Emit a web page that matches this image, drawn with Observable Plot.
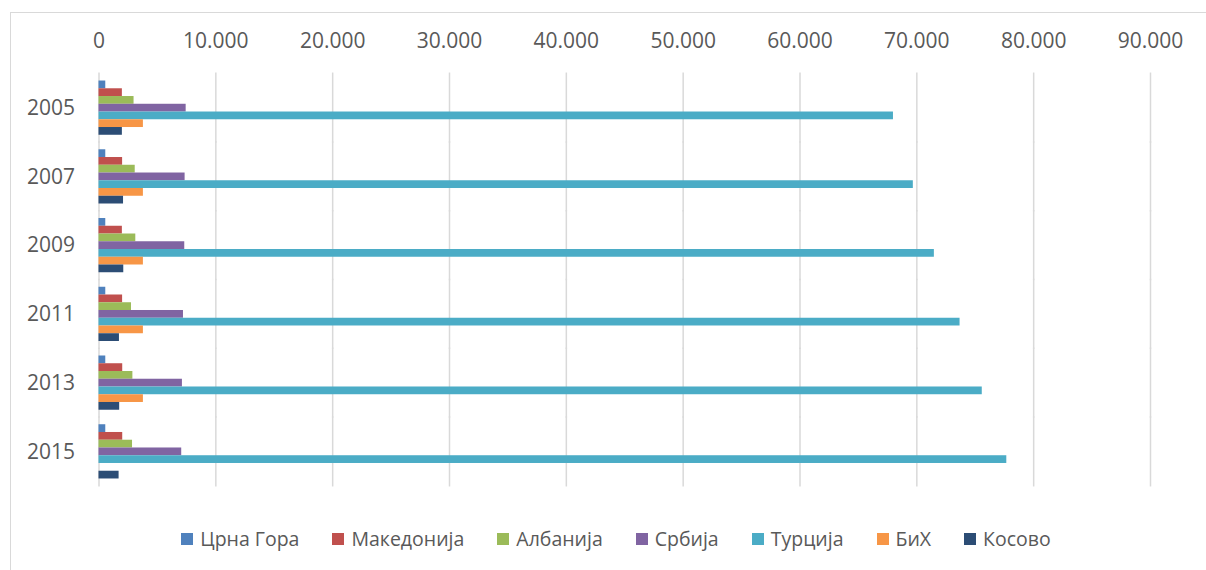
<!DOCTYPE html>
<html>
<head>
<meta charset="utf-8">
<script src="https://cdn.jsdelivr.net/npm/d3@7"></script>
<script src="https://cdn.jsdelivr.net/npm/@observablehq/plot@0.6"></script>
<style>
  html, body { margin: 0; padding: 0; background: #fff; }
  #wrap { position: relative; width: 1206px; height: 570px; overflow: hidden; font-family: "Open Sans", sans-serif; }
  #frame { position: absolute; left: 10px; top: 12px; width: 1300px; height: 700px; border-left: 1.5px solid #d9d9d9; border-top: 1.5px solid #d9d9d9; box-sizing: border-box; }
  #chart { position: absolute; left: 0; top: 0; }
  #legend { position: absolute; left: 0; top: 525px; width: 1232px; display: flex; justify-content: center; gap: 33px; font-size: 19.5px; color: #595959; }
  .item { display: flex; align-items: center; white-space: nowrap; }
  .sw { width: 12px; height: 12px; margin-right: 7px; }
</style>
</head>
<body>
<div id="wrap">
  <div id="frame"></div>
  <div id="chart"></div>
  <div id="legend"></div>
</div>
<script>
const years = ["2005", "2007", "2009", "2011", "2013", "2015"];
const series = ["Црна Гора", "Македонија", "Албанија", "Србија", "Турција", "БиХ", "Косово"];
const colors = ["#4F81BD", "#C0504D", "#9BBB59", "#8064A2", "#4BACC6", "#F79646", "#2C4D75"];
const crnaGora   = [580, 580, 580, 580, 580, 580];
const makedonija = [2000, 2020, 2000, 2020, 2030, 2030];
const albanija   = [3000, 3100, 3150, 2780, 2900, 2870];
const srbija     = [7460, 7370, 7340, 7230, 7140, 7080];
const turcija    = [68000, 69700, 71500, 73700, 75600, 77700];
const bih        = [3800, 3800, 3800, 3800, 3800, null];
const kosovo     = [2000, 2100, 2120, 1750, 1770, 1720];
const xTicks = [0, 10000, 20000, 30000, 40000, 50000, 60000, 70000, 80000, 90000];

const valuesBySeries = [crnaGora, makedonija, albanija, srbija, turcija, bih, kosovo];
const data = [];
years.forEach((yr, i) => {
  series.forEach((s, j) => {
    const v = valuesBySeries[j][i];
    if (v != null) data.push({year: yr, series: s, value: v});
  });
});

const loc = d3.formatLocale({decimal: ",", thousands: ".", grouping: [3], currency: ["", ""]});
const fmt = loc.format(",");

const chart = Plot.plot({
  width: 1206,
  height: 500,
  marginTop: 72,
  marginBottom: 13,
  marginLeft: 98.5,
  marginRight: 56,
  style: {fontFamily: "Open Sans", fontSize: "21px", color: "#595959", background: "transparent"},
  x: {domain: [0, 90000]},
  y: {domain: series, padding: 0, axis: null, round: false},
  fy: {domain: years, paddingInner: 0.211, paddingOuter: 0.124, label: null, round: false},
  color: {domain: series, range: colors},
  marks: [
    Plot.ruleX(xTicks, {x: d => d, stroke: "#d9d9d9", strokeWidth: 1.5, insetTop: -8, insetBottom: -8}),
    Plot.barX(data, {x: "value", y: "series", fy: "year", fill: "series"}),
    Plot.axisX(xTicks, {anchor: "top", tickSize: 0, tickPadding: 33, tickFormat: d => fmt(d), label: null, fill: "#595959"}),
    Plot.axisFy({anchor: "left", tickSize: 0, tickPadding: 24, label: null, fill: "#595959"})
  ]
});
document.getElementById("chart").appendChild(chart);

const legend = document.getElementById("legend");
series.forEach((s, j) => {
  const it = document.createElement("div");
  it.className = "item";
  const sw = document.createElement("span");
  sw.className = "sw";
  sw.style.background = colors[j];
  it.appendChild(sw);
  it.appendChild(document.createTextNode(s));
  legend.appendChild(it);
});
</script>
</body>
</html>
